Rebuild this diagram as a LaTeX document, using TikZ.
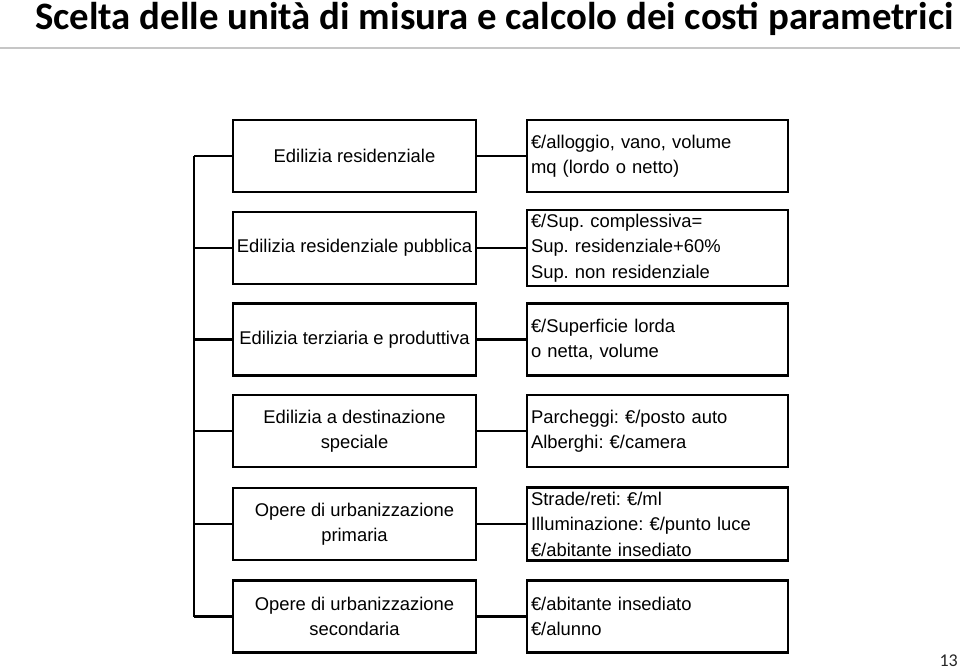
\documentclass[tikz,border=0pt]{standalone}
\usepackage{fontspec}
\setmainfont{Liberation Sans}
\newfontfamily\titlefont{Carlito}
\frenchspacing
\begin{document}
\begin{tikzpicture}[x=1pt,y=-1pt,
  boxtext/.style={font=\fontsize{18.4}{25.5}\selectfont},
  lbox/.style={draw, line width=2.6pt, minimum width=243pt, minimum height=72pt,
    align=center, inner sep=0pt, boxtext},
  rbox/.style={draw, line width=2.6pt, minimum width=261pt, minimum height=72pt,
    text width=253pt, align=left, inner sep=4pt, boxtext},
  link/.style={draw, line width=2.4pt}]
\useasboundingbox (0,0) rectangle (960,669);
% title
\node[anchor=base west, inner sep=0pt, font=\titlefont\bfseries\fontsize{38.8}{44}\selectfont] (title) at (35,30)
  {Scelta delle unità di misura e calcolo dei costi parametrici};
\coordinate (rl) at (0,48);
\coordinate (rr) at (960,48);
\draw[gray!45, line width=1.2pt] (rl) -- (rr);
% left column
\node[lbox] (L1) at (354.5,156) {Edilizia residenziale};
\node[lbox] (L2) at (354.5,248) {Edilizia residenziale pubblica};
\node[lbox] (L3) at (354.5,339.5) {Edilizia terziaria e produttiva};
\node[lbox] (L4) at (354.5,431) {Edilizia a destinazione\\speciale};
\node[lbox] (L5) at (354.5,524) {Opere di urbanizzazione\\primaria};
\node[lbox] (L6) at (354.5,616.5) {Opere di urbanizzazione\\secondaria};
% right column
\node[rbox] (R1) at (657.5,156) {€/alloggio, vano, volume\\mq (lordo o netto)};
\node[rbox] (R2) at (657.5,248) {€/Sup. complessiva=\\Sup. residenziale+60\%\\Sup. non residenziale};
\node[rbox] (R3) at (657.5,339.5) {€/Superficie lorda\\o netta, volume};
\node[rbox] (R4) at (657.5,431) {Parcheggi: €/posto auto\\Alberghi: €/camera};
\node[rbox] (R5) at (657.5,524) {Strade/reti: €/ml\\Illuminazione: €/punto luce\\€/abitante insediato};
\node[rbox] (R6) at (657.5,616.5) {€/abitante insediato\\€/alunno};
% bus
\foreach \i/\yy in {1/156,2/248,3/339.5,4/431,5/524,6/616.5} {
  \coordinate (b\i) at (194,\yy);
}
\draw[link] (b1) -- (b6);
\foreach \i in {1,...,6} {
  \draw[link] (b\i) -- (L\i.west);
  \draw[link] (L\i.east) -- (R\i.west);
}
% page number
\node[anchor=base east, inner sep=0pt, font=\titlefont\fontsize{18}{20}\selectfont, text=black!85] (pg) at (958,666) {13};
\end{tikzpicture}
\end{document}
